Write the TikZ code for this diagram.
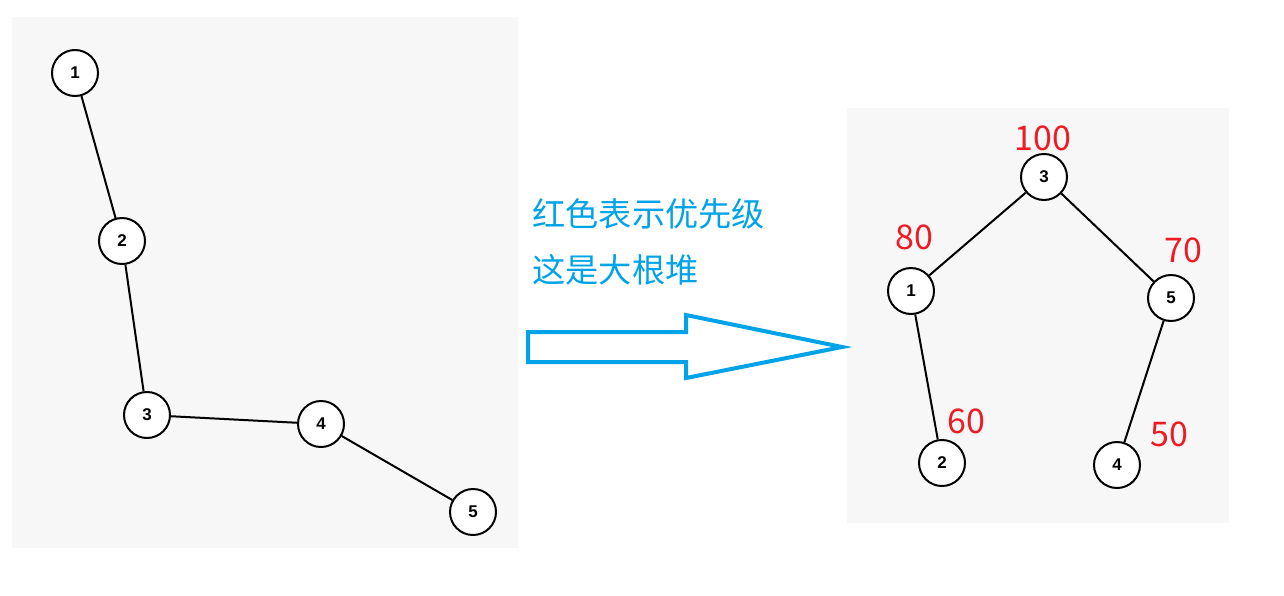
\documentclass[tikz,border=0pt]{standalone}
\usepackage{fontspec}
\setmainfont{Liberation Sans}
\newfontfamily\cjk{Noto Sans CJK SC}
\usepackage{tikz}
\definecolor{panelgray}{HTML}{F7F7F7}
\definecolor{notered}{HTML}{ED1C24}
\definecolor{noteblue}{HTML}{00A2E8}
\begin{document}
\begin{tikzpicture}[x=0.5pt,y=-0.5pt,
		vert/.style={circle,draw,line width=1pt,fill=white,minimum size=23pt,inner sep=0pt,font=\fontsize{8.5}{9}\selectfont\bfseries},
		edge/.style={line width=1pt},
		prio/.style={text=notered,font=\cjk\fontsize{17}{18}\selectfont,inner sep=0pt},
		note/.style={anchor=west,inner sep=0pt,text=noteblue,font=\cjk\fontsize{16.6}{18}\selectfont}]
	\useasboundingbox (0,0) rectangle (1284,595);
	\fill[panelgray] (12,17) rectangle (518,548);
	\fill[panelgray] (847,108) rectangle (1229,523);
	% original graph
	\node[vert] (a1) at (75,73) {1};
	\node[vert] (a2) at (122,241) {2};
	\node[vert] (a3) at (147,415) {3};
	\node[vert] (a4) at (321,424) {4};
	\node[vert] (a5) at (473,512) {5};
	\draw[edge] (a1) -- (a2) -- (a3) -- (a4) -- (a5);
	% text and arrow
	\node[note] (t1) at (532,214) {红色表示优先级};
	\node[note] (t2) at (532,270) {这是大根堆};
	\draw[noteblue,line width=2pt,line join=miter] (528,332) -- (686,332) -- (686,315) -- (842,347) -- (686,378) -- (686,362) -- (528,362) -- cycle;
	% heap
	\node[vert] (b3) at (1044,177) {3};
	\node[vert] (b1) at (911,291) {1};
	\node[vert] (b5) at (1171,298) {5};
	\node[vert] (b2) at (942,463) {2};
	\node[vert] (b4) at (1117,465) {4};
	\draw[edge] (b3) -- (b1) -- (b2);
	\draw[edge] (b3) -- (b5) -- (b4);
	\node[prio] (p3) at (1043,138) {100};
	\node[prio] (p1) at (914,237) {80};
	\node[prio] (p5) at (1183,250) {70};
	\node[prio] (p2) at (966,421) {60};
	\node[prio] (p4) at (1169,434) {50};
\end{tikzpicture}
\end{document}
